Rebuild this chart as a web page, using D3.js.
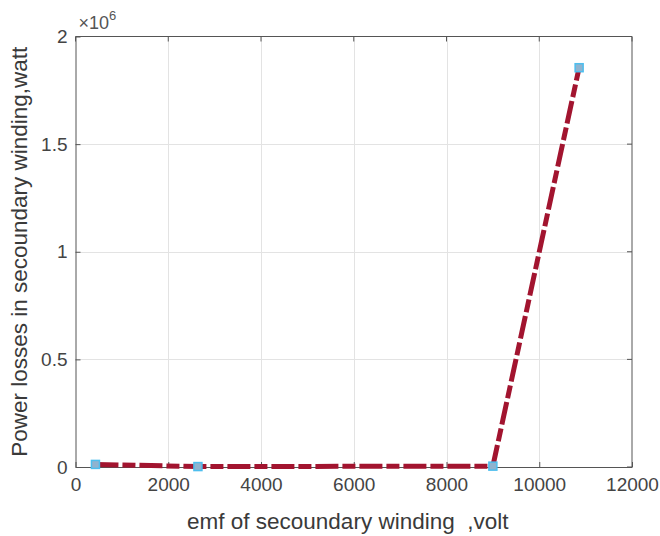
<!DOCTYPE html>
<html>
<head>
<meta charset="utf-8">
<script src="https://cdn.jsdelivr.net/npm/d3@7"></script>
<style>
  html, body { margin: 0; padding: 0; background: #fff; }
  svg text { font-family: "Liberation Sans", Arial, Helvetica, sans-serif; fill: #3a3a3a; }
</style>
</head>
<body>
<svg id="chart" width="660" height="536"></svg>
<script>
// EMF of the secondary winding (volt) and power losses (watt)
const emfVolts = [430, 2640, 9000, 10860];
const lossWatts = [12000, 2000, 4000, 1855000];
const xTicks = [0, 2000, 4000, 6000, 8000, 10000, 12000];
const yTicks = [0, 0.5e6, 1e6, 1.5e6, 2e6];
const yTickLabels = ["0", "0.5", "1", "1.5", "2"];

const svg = d3.select("#chart");
const m = { left: 75.5, right: 632, top: 36.5, bottom: 467 };

const x = d3.scaleLinear().domain([0, 12000]).range([m.left, m.right]);
const y = d3.scaleLinear().domain([0, 2e6]).range([m.bottom, m.top]);

// grid
const grid = svg.append("g").attr("stroke", "#e3e3e3").attr("stroke-width", 1);
grid.selectAll("line.gx").data(xTicks.slice(1, -1)).join("line")
  .attr("x1", d => Math.round(x(d)) + 0.5).attr("x2", d => Math.round(x(d)) + 0.5)
  .attr("y1", m.top).attr("y2", m.bottom);
grid.selectAll("line.gy").data(yTicks.slice(1, -1)).join("line")
  .attr("y1", d => Math.round(y(d)) + 0.5).attr("y2", d => Math.round(y(d)) + 0.5)
  .attr("x1", m.left).attr("x2", m.right);

// axes with inward ticks
const xAxis = d3.axisBottom(x).tickValues(xTicks).tickFormat(d3.format("d"))
  .tickSizeInner(-5).tickSizeOuter(0).tickPadding(11);
const yAxis = d3.axisLeft(y).tickValues(yTicks).tickFormat((d, i) => yTickLabels[i])
  .tickSizeInner(-5).tickSizeOuter(0).tickPadding(8);

const gx = svg.append("g").attr("transform", `translate(0,${m.bottom})`).call(xAxis);
const gy = svg.append("g").attr("transform", `translate(${m.left},0)`).call(yAxis);
[gx, gy].forEach(g => {
  g.attr("font-size", 19).attr("font-family", "'Liberation Sans', Arial, sans-serif");
  g.select(".domain").attr("stroke", "#555");
  g.selectAll(".tick line").attr("stroke", "#555");
  g.selectAll(".tick text").style("fill", "#444");
});

// top and right box edges with ticks
const box = svg.append("g").attr("stroke", "#555").attr("fill", "none");
box.append("line").attr("x1", m.left).attr("x2", m.right).attr("y1", m.top).attr("y2", m.top);
box.append("line").attr("x1", m.right).attr("x2", m.right).attr("y1", m.top).attr("y2", m.bottom);
box.selectAll("line.tt").data(xTicks).join("line")
  .attr("x1", d => x(d)).attr("x2", d => x(d)).attr("y1", m.top).attr("y2", m.top + 5);
box.selectAll("line.tr").data(yTicks).join("line")
  .attr("y1", d => y(d)).attr("y2", d => y(d)).attr("x1", m.right).attr("x2", m.right - 5);

// exponent label
const ex = svg.append("text").attr("x", m.left + 3).attr("y", 29).attr("font-size", 18).style("fill", "#555");
ex.append("tspan").text("×10");
ex.append("tspan").attr("font-size", 13).attr("dy", -9).text("6");

// data line (dash-dot)
const pts = emfVolts.map((v, i) => [v, lossWatts[i]]);
svg.append("path")
  .datum(pts)
  .attr("fill", "none")
  .attr("stroke", "#a2142f")
  .attr("stroke-width", 5)
  .attr("stroke-dasharray", "23,4,13,4")
  .attr("d", d3.line().x(d => x(d[0])).y(d => y(d[1])));

// square markers
svg.selectAll("rect.mk").data(pts).join("rect")
  .attr("x", d => x(d[0]) - 4).attr("y", d => y(d[1]) - 4)
  .attr("width", 8).attr("height", 8)
  .attr("fill", "#8fb3cf")
  .attr("stroke", "#4dbeee")
  .attr("stroke-width", 1.5);

// axis titles
svg.append("text")
  .attr("x", (m.left + m.right) / 2 - 6).attr("y", 529)
  .attr("text-anchor", "middle").attr("font-size", 22.5)
  .attr("xml:space", "preserve")
  .text("emf of secoundary winding  ,volt");

svg.append("text")
  .attr("transform", `translate(27,${(m.top + m.bottom) / 2}) rotate(-90)`)
  .attr("text-anchor", "middle").attr("font-size", 22.5)
  .text("Power losses in secoundary winding,watt");
</script>
</body>
</html>
